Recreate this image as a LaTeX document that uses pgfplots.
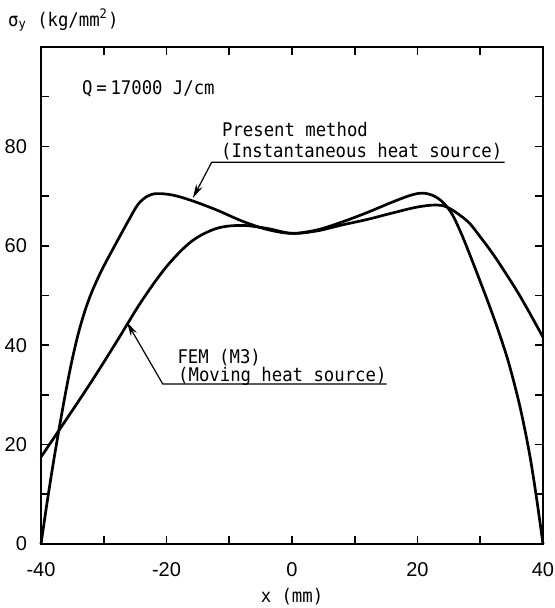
\documentclass[border=0pt]{standalone}
\usepackage{pgfplots}
\pgfplotsset{compat=1.18}
\usepackage{fontspec}
\setmainfont{Liberation Sans}
\newfontfamily\plotmono[FakeStretch=0.92]{DejaVu Sans Mono}
\usetikzlibrary{arrows.meta}

% curve data
\pgfplotstableread{
x y
-40 0
-39 8.6
-38 16.6
-37 24.0
-36 31.0
-35 37.3
-34 42.6
-33 46.9
-32 50.4
-31 53.3
-30 55.9
-28 60.6
-26 65.2
-24.5 68.4
-23 70.0
-21.5 70.5
-19 70.2
-16 69.1
-12 67.2
-8 65.0
-4 63.3
0 62.5
4 63.2
8 64.8
12 66.7
16 68.8
19 70.2
20.8 70.6
22.5 70.1
24 68.8
25.5 66.4
27 62.4
28.5 57.7
30 52.8
31.5 47.8
33 42.5
34.5 36.6
36 29.4
37 23.7
38 17.1
39 9.0
40 0
}\present

\pgfplotstableread{
x y
-40 17.5
-36 25.0
-32 32.6
-28 40.6
-24 48.8
-20 55.8
-16 60.9
-12 63.5
-8 64.1
-4 63.5
0 62.5
4 63.0
8 64.2
12 65.3
16 66.6
20 67.8
23 68.2
25 67.6
28 64.9
30 61.8
32 58.4
34 54.6
36 50.6
38 46.2
40 41.6
}\fem

\begin{document}
\begin{tikzpicture}
\path[use as bounding box] (-20.5pt,-32pt) rectangle (256.5pt,272pt);
\begin{axis}[
  scale only axis, width=251pt, height=248.5pt,
  xmin=-40, xmax=40, ymin=0, ymax=100,
  xtick={-40,-20,0,20,40}, xticklabels={-40,-20,0,20,40},
  minor xtick={-30,-10,10,30},
  ytick={0,20,40,60,80}, yticklabels={0,20,40,60,80},
  minor ytick={10,30,50,70,90},
  tick align=inside, major tick length=4pt, minor tick length=4pt,
  axis line style={line width=1.4pt},
  every tick/.style={black, line width=0.8pt},
  tick label style={font=\fontsize{10}{12}\selectfont},
  xticklabel style={yshift=-5.5pt},
  yticklabel style={xshift=-3.5pt},
  clip=false,
]
\addplot[black, line width=1.35pt, smooth, tension=0.55] table {\present};
\addplot[black, line width=1.35pt, smooth, tension=0.55] table {\fem};

\draw[line width=0.6pt, -{Stealth[length=7pt,width=3.5pt]}]
  (axis cs:33.9,76.8) -- (axis cs:-12.8,76.8) -- (axis cs:-15.8,69.6);
\draw[line width=0.6pt, -{Stealth[length=7pt,width=3.5pt]}]
  (axis cs:15.1,32.2) -- (axis cs:-20.6,32.2) -- (axis cs:-26.3,44.6);

\begin{scope}[every node/.style={font=\plotmono\fontsize{9.4}{11}\selectfont, inner sep=0pt}]
\node[anchor=base west] at (axis cs:-11.2,81.9) {Present method};
\node[anchor=base west] at (axis cs:-11.35,77.7) {(Instantaneous heat source)};
\node[anchor=base west] at (axis cs:-18.3,36.3) {FEM (M3)};
\node[anchor=base west] at (axis cs:-18.2,32.75) {(Moving heat source)};
\node[anchor=base west] at (axis cs:-33.5,90.5) {Q\hspace{0.2em}=\hspace{0.2em}17000 J/cm};
\node[anchor=base west] at (axis cs:-45.3,104.1) {σ\textsubscript{y} (kg/mm\textsuperscript{2})};
\node at (axis cs:0,-10.65) {x (mm)};
\end{scope}
\end{axis}
\end{tikzpicture}
\end{document}
